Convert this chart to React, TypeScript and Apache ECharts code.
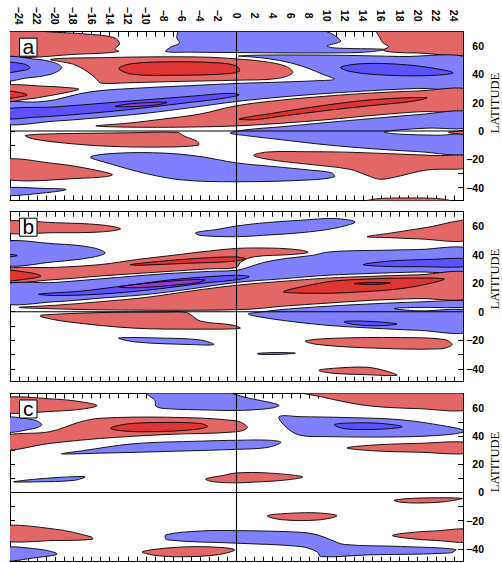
import React, { useEffect, useRef } from 'react';
import * as echarts from 'echarts';

// ---------- axes ----------
const lagMin = -25;
const lagMax = 25;
const latMin = -49;
const latMax = 70;
const lagLabelValues = [-24, -22, -20, -18, -16, -14, -12, -10, -8, -6, -4, -2, 0, 2, 4, 6, 8, 10, 12, 14, 16, 18, 20, 22, 24];
const latTickValues = [-40, -30, -20, -10, 0, 10, 20, 30, 40, 50, 60];
const latLabelValues = [-40, -20, 0, 20, 40, 60];
const panelLetters = ['a', 'b', 'c'];
const axisTitle = 'LATITUDE';

const levelColors: Record<string, string> = {
  r1: '#E36767',
  r2: '#E13434',
  r3: '#B51E1E',
  b1: '#8080FF',
  b2: '#5E50FF',
  b3: '#9C3BCB',
};

// ---------- panel a contour regions: [lag, latitude] ----------
const aRedTopLeft = [[-26, 71], [-23, 71], [-20.5, 69.8], [-16.5, 68.3], [-13.5, 65.8], [-12.9, 61.5], [-13.4, 58], [-13, 56], [-17, 54.3], [-26, 53.8]];
const aBlueTop = [[-6.2, 71], [9.3, 71], [11.5, 63.5], [10, 60], [11, 58.5], [16.3, 57.5], [14, 55.5], [8, 55], [0, 55.3], [-5, 55.6], [-7.8, 56], [-7.3, 59], [-6.3, 62], [-6.6, 66]];
const aRedTopRight = [[15.5, 71], [26, 71], [26, 54.5], [20, 55], [17.5, 55.5], [16.2, 57], [16.8, 59.5], [16.2, 62], [15.8, 66]];
const aBlueLeft = [[-26, 51.3], [-22, 50.5], [-20, 48], [-19.3, 44.5], [-20.5, 40], [-23, 37.5], [-26, 36]];
const aDarkBlueLeft = [[-26, 48], [-23.5, 47.3], [-22.8, 44.5], [-23.7, 42.5], [-26, 41.5]];
const aRedMid = [[-20.5, 50.5], [-14, 51.8], [-8, 52.3], [-3, 52], [0, 50.8], [3, 49], [5.5, 45.5], [6.2, 41], [4.5, 37], [0, 35.8], [-6, 35], [-12, 34], [-15, 33.8], [-15.5, 37], [-16.5, 42], [-18, 47]];
const aDarkRedMid = [[-13, 44], [-11.5, 47.5], [-7, 48.8], [-2, 48], [0, 45.8], [0.3, 42], [-2, 40], [-7, 39.3], [-11.5, 40]];
const aBlueBig = [[0.2, 52.8], [2, 53.4], [6, 53.6], [12, 53.3], [18, 52.5], [26, 51], [26, 31], [20, 30], [15, 28.5], [10, 26.5], [5, 24], [0, 20.8], [-5, 16.5], [-10, 12.5], [-15, 9.5], [-20, 7], [-26, 5.5], [-26, 19], [-22, 20.5], [-20, 22], [-17.5, 26], [-15, 28.5], [-10, 30.5], [-5, 32], [0, 33.5], [5, 34.5], [9, 35.5], [10.8, 36.5], [9.5, 40], [8, 44], [6, 48], [3.5, 51], [1.5, 52.3]];
const aDarkBlueRight = [[11.5, 45], [14, 47.5], [18, 47], [21.5, 44.5], [23.9, 41], [21, 39], [16, 39.5], [12.5, 42]];
const aRedLeft = [[-26, 31.5], [-21, 31.5], [-18.5, 30.5], [-17.4, 29.5], [-18.5, 27.5], [-21, 24.5], [-23, 22.5], [-26, 21.5]];
const aDarkRedLeft = [[-26, 28], [-24, 27.2], [-23.1, 25.5], [-24, 24], [-26, 22.8]];
const aDarkBlueDiag = [[-26, 15], [-20, 17], [-12, 21], [-5, 24.5], [-1, 26.5], [0.3, 25.5], [-1.5, 23], [-6, 19.5], [-12, 15], [-18, 11.5], [-22, 9.8], [-26, 9]];
const aPurple = [[-13.4, 17.3], [-11.5, 19.3], [-7.7, 20.3], [-8.6, 18.6], [-11.5, 17.2]];
const aRedDiag = [[-15.5, 3.6], [-12, 5.5], [-8, 8.5], [-4, 12], [0, 17.8], [5, 21.8], [10, 24.6], [15, 26.8], [20, 28.2], [26, 29], [26, 15.5], [20, 13.5], [15, 11], [10, 8], [5, 5.5], [0, 3.6], [-5, 2.8], [-10, 2.6], [-14, 3]];
const aDarkRedDiag = [[0.3, 8.5], [4, 12.5], [8, 16.5], [12, 20], [16, 22.5], [21, 23.5], [19.5, 21], [15, 18], [10, 14.5], [5, 10.5], [2, 8]];
const aBlueLowRight = [[-0.7, -1.5], [1, 0.8], [5, 3], [10, 6], [15, 8.8], [20, 11.5], [26, 13.5], [26, 3], [21, 2], [17.5, 0.5], [16.3, -0.8], [18, -2.2], [22, -3], [26, -3.5], [26, -16], [20, -14.5], [15, -12.5], [10, -9.8], [5, -6.2], [1, -3.2]];
const aRedTip = [[26, 0.8], [24.5, 0], [23.4, -1], [24.5, -2], [26, -2.5]];
const aRedLowLeft = [[-23.3, -3.2], [-20, -2], [-12, -1.3], [-6.5, -1], [-5.8, -3.5], [-4.3, -7.5], [-4.2, -10], [-8, -11.3], [-14, -10.8], [-19, -8.5], [-22.5, -5.5]];
const aBlueMidLow = [[-16.1, -18.3], [-13, -15.6], [-8, -15.6], [-4, -18], [0, -22.5], [4, -25], [8, -27.5], [10.5, -29.5], [10.8, -32.3], [8, -34.5], [0, -35.8], [-6, -34.5], [-10, -30], [-14, -23]];
const aRedLowRight = [[1.9, -17.3], [3.4, -14.8], [8, -14.6], [12, -14.9], [18, -16.3], [22, -17.3], [26, -18], [26, -25.5], [21, -27.5], [17.5, -32.5], [15.8, -34], [14.5, -31.5], [12.5, -27], [8, -23.5], [4, -20.5]];
const aRedBotLeft = [[-26, -20.5], [-20, -23], [-16, -27], [-13.7, -31], [-17, -33.3], [-26, -33.5]];
const aBlueBotLeft = [[-26, -40.4], [-21, -40.5], [-18.8, -41.2], [-21, -43.5], [-26, -45.3]];
const aRedBottom = [[14, -50], [15.5, -47.8], [19, -47.2], [22.5, -47.8], [24, -50]];

// ---------- panel b ----------
const bRedTopLeft = [[-26, 63], [-20, 62.3], [-15, 60.8], [-12.8, 58], [-15, 55.8], [-20, 55.3], [-26, 55.5]];
const bBlueTop = [[-4.5, 55.3], [-2.1, 57.6], [0, 60], [3.4, 62.4], [7.1, 64], [10.8, 65.2], [13.1, 62.8], [10.8, 58.4], [7.1, 55.3], [3, 53.5], [0, 52.5], [-4, 53.4]];
const bRedTopRight = [[14.4, 52.5], [17, 55], [21, 59], [26, 63.5], [26, 50.5], [20, 51], [17, 51.8]];
const bBlueLeft = [[-26, 48.2], [-20, 47.5], [-16, 45], [-14.5, 41.2], [-16, 38], [-20, 35], [-26, 33]];
const bDarkBlueLeft = [[-26, 40.3], [-24.2, 39.3], [-26, 38]];
const bRedUpper = [[-26, 29.5], [-20, 31], [-15, 33], [-11, 36.5], [-7, 39.5], [-3, 42.5], [0, 44.3], [4, 44.5], [7, 43.2], [7.9, 41.5], [6, 40], [2, 38.5], [0.5, 35], [0, 31], [-3, 30], [-8, 28], [-15, 25], [-20, 22.5], [-26, 21]];
const bDarkRedLeft = [[-26, 28.5], [-23, 27.5], [-21.6, 25], [-23, 23], [-26, 22]];
const bDarkRedUpper = [[-11.7, 33], [-8, 35.5], [-3, 37.8], [0, 38.3], [1, 37], [-1, 35], [-5, 34], [-11, 32.5]];
const bBlueMid = [[-26, 18.5], [-20, 20.5], [-15, 23], [-8, 26.5], [-3, 28.2], [0, 29], [1.5, 31.5], [3, 34.5], [5.5, 37.3], [8.5, 39.5], [9.8, 41.5], [12, 42.5], [16, 43], [20, 43.5], [26, 43.8], [26, 28.8], [20, 27.8], [15, 26.8], [10, 25.5], [5, 23], [0, 20.5], [-5, 16], [-10, 12], [-15, 9.5], [-20, 7], [-26, 6]];
const bDarkBlueMid = [[-21.8, 12.3], [-17, 14.5], [-12, 18.5], [-7, 22.5], [-3, 24.5], [0, 25.5], [1.4, 24.5], [0, 22.3], [-3, 20.5], [-6, 18], [-10, 15], [-15, 12.3], [-20, 11.3]];
const bPurple = [[-13, 17.3], [-10, 19.8], [-6, 22], [-3.5, 22.3], [-4.5, 20.2], [-8, 18], [-11, 16.8]];
const bDarkBlueRight = [[14, 33], [17, 35.5], [21, 36.5], [26, 36.8], [26, 32], [20, 31.5], [16, 31.8]];
const bRedLower = [[-24, 3], [-20, 4.5], [-15, 7], [-10, 10], [-5, 14.5], [0, 18.5], [5, 21.2], [10, 23.5], [15, 24.8], [20, 25.8], [26, 26.8], [26, 10], [20, 9.2], [15, 8], [10, 6], [5, 3.8], [1.5, 1.8], [-5, 1], [-15, 1.3], [-20, 2]];
const bDarkRedLower = [[5.2, 14], [8, 18.5], [10.8, 21.5], [15, 23], [18, 23.5], [22.9, 23], [21.5, 20], [18, 16], [14, 14], [10.8, 13], [7, 13]];
const bDarkestRed = [[13, 19.7], [15, 20.4], [17, 20.1], [15, 19]];
const bBlueLowRight = [[1.3, -1.5], [3, 0], [5, 1.5], [10, 3.8], [15, 5.5], [20, 6.8], [26, 7.5], [26, 3.5], [20, 3], [17.4, 2.2], [20, 0.6], [26, 0], [26, -14], [20, -13], [15, -11.5], [10, -9.5], [5, -6], [2, -3]];
const bDarkBlueLow = [[11.9, -7], [14, -6.6], [17.7, -8.5], [16, -9.8], [13, -9]];
const bRedLowLeft = [[-21.6, -2.4], [-15, -0.6], [-8, -0.2], [-5.8, -0.2], [-5.2, -1.5], [-4, -6.5], [-0.5, -9.3], [0.4, -11.6], [-4, -12.2], [-11.3, -11.5], [-18.7, -7], [-21.6, -3.5]];
const bBlueSmall = [[-13, -18.4], [-8, -18.5], [-4, -19.8], [-2.5, -23], [-5, -23], [-11, -21.3]];
const bRedLowRight = [[7.6, -20.5], [10.8, -18.6], [18.1, -18.1], [22.9, -19.4], [23.8, -23], [22.5, -26], [14.4, -25.3], [8.9, -22.9]];
const bBlueTiny = [[2.3, -29.2], [4.5, -28.6], [6.5, -29], [4.5, -29.9], [2.5, -29.8]];
const bRedBottom = [[9.1, -41], [11, -39.5], [14.4, -38.9], [16.5, -41.5], [17.7, -44.5], [14, -44], [10.5, -43]];

// ---------- panel c ----------
const cRedTopLeft = [[-26, 66.6], [-20, 66], [-17, 64], [-15.4, 61.4], [-17, 59], [-20, 57.5], [-26, 57]];
const cBlueTop = [[-10, 71], [-9, 65], [-8.9, 61], [-7.8, 59.3], [-3, 58.3], [0, 58], [3.5, 59.3], [4.7, 61.5], [3.8, 63.5], [1.5, 66.5], [0, 69], [-1, 71]];
const cRedTopRight = [[7, 71], [26, 71], [26, 59], [20, 59.3], [15, 61], [12, 64], [9.5, 67.5]];
const cBlueLeft = [[-26, 52.5], [-22.5, 51.5], [-21.5, 48], [-22.5, 45], [-26, 43]];
const cRedMid = [[-26, 39.5], [-20.6, 43], [-17.2, 50], [-15, 52.5], [-7.7, 53.2], [0, 50.6], [1.2, 46], [0, 42.9], [-7.7, 41], [-15, 38.2], [-20.6, 34.7], [-26, 30]];
const cDarkRedMid = [[-13.9, 45.5], [-12, 48.5], [-8, 49.5], [-4, 48.8], [-3.2, 46.5], [-5, 44.3], [-9, 43], [-12.5, 43.5]];
const cBlueMid = [[-19.3, 27.3], [-17, 29.5], [-11.3, 34.5], [-4, 36.3], [0, 36.9], [3.4, 37], [4.9, 35.5], [3.4, 31.8], [0, 30.5], [-7.7, 29], [-15, 27.8]];
const cBlueRight = [[4.7, 53.6], [7, 53.6], [12, 53], [18, 51.5], [23, 47], [25.2, 43.5], [23.5, 41], [18, 39.3], [10, 39.5], [7, 40.5], [5.5, 46]];
const cDarkBlueRight = [[10.8, 48], [13, 49.2], [16, 48.8], [18.3, 46.5], [16, 44.8], [12, 45]];
const cRedRightMid = [[12.2, 31.5], [15, 33.5], [20, 34.7], [26, 35], [26, 28], [20, 28.5], [15, 29.5]];
const cBlueLowLeft = [[-24.6, 7.5], [-22, 9.5], [-18.5, 11], [-16.7, 11], [-18, 8.5], [-22, 7.5]];
const cRedCenter = [[-3.4, 9.5], [-1.5, 12], [0, 13.8], [3.4, 13.8], [7.3, 11], [5, 8.5], [2, 7.3], [0, 6.8], [-2.5, 7.5]];
const cRedRightSmall = [[17.4, -5.5], [20, -4], [24.9, -4.2], [23, -6.5], [20, -7.5], [18, -6.8]];
const cRedMidSmall = [[3.4, -16.5], [6, -14.7], [9, -14.5], [11.1, -16.5], [9, -19.5], [5, -19.3]];
const cRedLowLeft = [[-26, -24], [-20, -26], [-16, -31.5], [-15.9, -33.2], [-20, -34], [-26, -33.8]];
const cBlueLow = [[-7.8, -30], [-4, -27.3], [0, -27], [7.1, -28.2], [8.9, -30], [10.4, -33.5], [11.9, -36.8], [18.1, -38.2], [24.2, -40.3], [23.6, -42.8], [14.4, -44.2], [9.3, -45.4], [8.9, -42], [7.1, -38.3], [0, -35.9], [-7.7, -33.5]];
const cRedLowRight = [[17.2, -30.5], [19, -28.5], [22, -27.2], [26, -26.5], [26, -34.5], [22, -34], [19, -32.5]];
const cRedBottom = [[-10.4, -42], [-7, -39], [-3, -38.5], [-0.2, -40.5], [-2, -44], [-6, -45.5], [-9, -44.5]];
const cBlueBotLeft = [[-26, -39.5], [-22, -40], [-19.8, -43.5], [-22, -46], [-26, -48]];

type Shape = { level: string; pts: number[][] };

const panelA: Shape[] = [
  { level: 'r1', pts: aRedTopLeft }, { level: 'b1', pts: aBlueTop }, { level: 'r1', pts: aRedTopRight },
  { level: 'b1', pts: aBlueLeft }, { level: 'r1', pts: aRedMid }, { level: 'b1', pts: aBlueBig },
  { level: 'r1', pts: aRedLeft }, { level: 'r1', pts: aRedDiag }, { level: 'b1', pts: aBlueLowRight },
  { level: 'r1', pts: aRedTip }, { level: 'r1', pts: aRedLowLeft }, { level: 'b1', pts: aBlueMidLow },
  { level: 'r1', pts: aRedLowRight }, { level: 'r1', pts: aRedBotLeft }, { level: 'b1', pts: aBlueBotLeft },
  { level: 'r1', pts: aRedBottom },
  { level: 'b2', pts: aDarkBlueLeft }, { level: 'r2', pts: aDarkRedMid }, { level: 'b2', pts: aDarkBlueRight },
  { level: 'r2', pts: aDarkRedLeft }, { level: 'b2', pts: aDarkBlueDiag }, { level: 'r2', pts: aDarkRedDiag },
  { level: 'b3', pts: aPurple },
];

const panelB: Shape[] = [
  { level: 'r1', pts: bRedTopLeft }, { level: 'b1', pts: bBlueTop }, { level: 'r1', pts: bRedTopRight },
  { level: 'b1', pts: bBlueLeft }, { level: 'r1', pts: bRedUpper }, { level: 'b1', pts: bBlueMid },
  { level: 'r1', pts: bRedLower }, { level: 'b1', pts: bBlueLowRight }, { level: 'r1', pts: bRedLowLeft },
  { level: 'b1', pts: bBlueSmall }, { level: 'r1', pts: bRedLowRight }, { level: 'b1', pts: bBlueTiny },
  { level: 'r1', pts: bRedBottom },
  { level: 'b2', pts: bDarkBlueLeft }, { level: 'r2', pts: bDarkRedLeft }, { level: 'r2', pts: bDarkRedUpper },
  { level: 'b2', pts: bDarkBlueMid }, { level: 'b2', pts: bDarkBlueRight }, { level: 'r2', pts: bDarkRedLower },
  { level: 'b2', pts: bDarkBlueLow }, { level: 'b3', pts: bPurple }, { level: 'r3', pts: bDarkestRed },
];

const panelC: Shape[] = [
  { level: 'r1', pts: cRedTopLeft }, { level: 'b1', pts: cBlueTop }, { level: 'r1', pts: cRedTopRight },
  { level: 'b1', pts: cBlueLeft }, { level: 'r1', pts: cRedMid }, { level: 'b1', pts: cBlueMid },
  { level: 'b1', pts: cBlueRight }, { level: 'r1', pts: cRedRightMid }, { level: 'b1', pts: cBlueLowLeft },
  { level: 'r1', pts: cRedCenter }, { level: 'r1', pts: cRedRightSmall }, { level: 'r1', pts: cRedMidSmall },
  { level: 'r1', pts: cRedLowLeft }, { level: 'b1', pts: cBlueLow }, { level: 'r1', pts: cRedLowRight },
  { level: 'r1', pts: cRedBottom }, { level: 'b1', pts: cBlueBotLeft },
  { level: 'r2', pts: cDarkRedMid }, { level: 'b2', pts: cDarkBlueRight },
];

const panels = [panelA, panelB, panelC];
const panelBoxes = [
  { top: 31.7, height: 168.8 },
  { top: 211.7, height: 170 },
  { top: 393.5, height: 168.2 },
];
const latitudeTitleY = [103, 279, 462];

const fmt = (v: number) => (v < 0 ? '\u2212' + Math.abs(v) : String(v));

export default function App() {
  const ref = useRef<HTMLDivElement>(null);
  useEffect(() => {
    if (!ref.current) return;
    const chart = echarts.init(ref.current, undefined, { renderer: 'svg' });
    const labelFont = { fontSize: 10.5, fontWeight: 'bold' as const, fontFamily: 'Liberation Sans, Arial, sans-serif', color: '#000' };
    const grid = panelBoxes.map((b) => ({ left: 10, width: 453, top: b.top, height: b.height }));
    const xAxis: any[] = [];
    const yAxis: any[] = [];
    const series: any[] = [];
    const graphic: any[] = [];
    panelBoxes.forEach((b, i) => {
      const axisLine = { show: true, onZero: false, lineStyle: { color: '#000', width: 1 } };
      xAxis.push({
        type: 'value', gridIndex: i, position: 'bottom', min: lagMin, max: lagMax, interval: 1,
        axisLine, axisTick: { show: true, inside: true, length: 5, lineStyle: { color: '#000' } },
        axisLabel: { show: false }, splitLine: { show: false },
      });
      xAxis.push({
        type: 'value', gridIndex: i, position: 'top', min: lagMin, max: lagMax, interval: 1,
        axisLine, axisTick: { show: true, inside: true, length: 5, lineStyle: { color: '#000' } },
        axisLabel: {
          show: i === 0, rotate: 90, align: 'center', verticalAlign: 'middle', margin: 16, ...labelFont,
          formatter: (v: number) => (lagLabelValues.indexOf(v) >= 0 ? fmt(v) : ''),
        },
        splitLine: { show: false },
      });
      yAxis.push({
        type: 'value', gridIndex: i, position: 'left', min: latMin, max: latMax,
        axisLine, axisTick: { show: true, inside: true, length: 5, customValues: latTickValues, lineStyle: { color: '#000' } },
        axisLabel: { show: false }, splitLine: { show: false },
      });
      yAxis.push({
        type: 'value', gridIndex: i, position: 'right', min: latMin, max: latMax,
        axisLine, axisTick: { show: true, inside: true, length: 5, customValues: latTickValues, lineStyle: { color: '#000' } },
        axisLabel: { show: true, customValues: latLabelValues, formatter: fmt, align: 'right', margin: 21, ...labelFont },
        splitLine: { show: false },
      });
      const shapes = panels[i];
      series.push({
        type: 'custom', xAxisIndex: 2 * i, yAxisIndex: 2 * i, silent: true, clip: true, z: 2,
        data: shapes.map(() => [0, 0]),
        renderItem: (params: any, api: any) => {
          const s = shapes[params.dataIndex];
          const cs = params.coordSys;
          return {
            type: 'polygon',
            shape: { points: s.pts.map((p) => api.coord(p)), smooth: 0.35 },
            style: { fill: levelColors[s.level], stroke: '#000', lineWidth: 0.9 },
            clipPath: { type: 'rect', shape: { x: cs.x, y: cs.y, width: cs.width, height: cs.height } },
          };
        },
      });
      series.push({
        type: 'line', xAxisIndex: 2 * i, yAxisIndex: 2 * i, silent: true, z: 5, symbol: 'none',
        data: [[lagMin, 0], [lagMax, 0]], lineStyle: { color: '#000', width: 1.1 },
      });
      series.push({
        type: 'line', xAxisIndex: 2 * i, yAxisIndex: 2 * i, silent: true, z: 5, symbol: 'none',
        data: [[0, latMin], [0, latMax]], lineStyle: { color: '#000', width: 1.1 },
      });
      graphic.push({
        type: 'rect', z: 100, shape: { x: 19.5, y: b.top + 6.5, width: 17.5, height: 18 },
        style: { fill: '#fff', stroke: '#000', lineWidth: 1 },
      });
      graphic.push({
        type: 'text', z: 101, x: 28.25, y: b.top + 15, style: {
          text: panelLetters[i], font: '21px "Liberation Sans", Arial, sans-serif', align: 'center', verticalAlign: 'middle', fill: '#000',
        },
      });
      graphic.push({
        type: 'text', z: 101, x: 494.5, y: latitudeTitleY[i], rotation: Math.PI / 2, style: {
          text: axisTitle, font: '12.5px "Liberation Serif", "Times New Roman", serif', align: 'center', verticalAlign: 'middle', fill: '#000',
        },
      });
    });
    chart.setOption({ animation: false, backgroundColor: '#fff', grid, xAxis, yAxis, series, graphic });
    return () => chart.dispose();
  }, []);
  return <div ref={ref} style={{ position: 'fixed', left: 0, top: 0, width: 502, height: 563 }} />;
}
